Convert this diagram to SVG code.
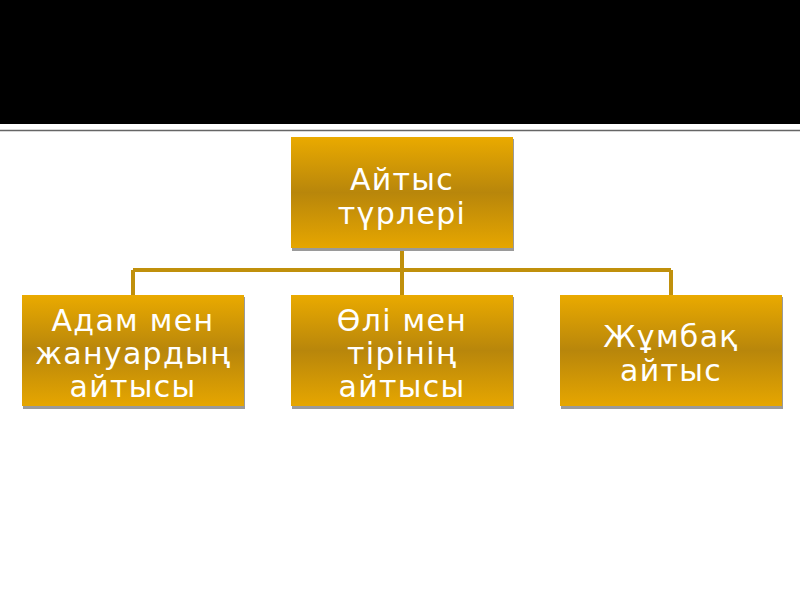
<svg xmlns="http://www.w3.org/2000/svg" width="800" height="600" viewBox="0 0 800 600">
<defs>
<linearGradient id="g" x1="0" y1="0" x2="0" y2="1">
<stop offset="0" stop-color="#EAAA00"/>
<stop offset="0.5" stop-color="#B8860B"/>
<stop offset="1" stop-color="#E6A600"/>
</linearGradient>
</defs>
<style>
.box{fill:url(#g);}
.sh{fill:#9a9a9a;}
.t{font-family:"DejaVu Sans",Verdana,sans-serif;font-size:30px;letter-spacing:1.3px;fill:#fff;text-anchor:middle;}
.c{stroke:#C0900C;stroke-width:4;fill:none;}
</style>
<rect width="800" height="600" fill="#fff"/>
<rect x="0" y="0" width="800" height="124" fill="#000"/>
<line x1="0" y1="130.5" x2="800" y2="130.5" stroke="#666" stroke-width="1.5"/>
<g id="connectors">
<path class="c" d="M402 248V270M133 270H671M133 270V295M402 270V295M671 270V295"/>
</g>
<g id="root">
<rect class="sh" x="292" y="139" width="222" height="112"/>
<rect class="box" x="291" y="137" width="222" height="111"/>
<text class="t" x="402" y="190">Айтыс</text>
<text class="t" x="402" y="224">түрлері</text>
</g>
<g id="n1">
<rect class="sh" x="23" y="297" width="222" height="112"/>
<rect class="box" x="22" y="295" width="222" height="111"/>
<text class="t" x="133" y="331">Адам мен</text>
<text class="t" x="133" y="364">жануардың</text>
<text class="t" x="133" y="397">айтысы</text>
</g>
<g id="n2">
<rect class="sh" x="292" y="297" width="222" height="112"/>
<rect class="box" x="291" y="295" width="222" height="111"/>
<text class="t" x="402" y="331">Өлі мен</text>
<text class="t" x="402" y="364">тірінің</text>
<text class="t" x="402" y="397">айтысы</text>
</g>
<g id="n3">
<rect class="sh" x="561" y="297" width="222" height="112"/>
<rect class="box" x="560" y="295" width="222" height="111"/>
<text class="t" x="671" y="347">Жұмбақ</text>
<text class="t" x="671" y="381">айтыс</text>
</g>
</svg>
